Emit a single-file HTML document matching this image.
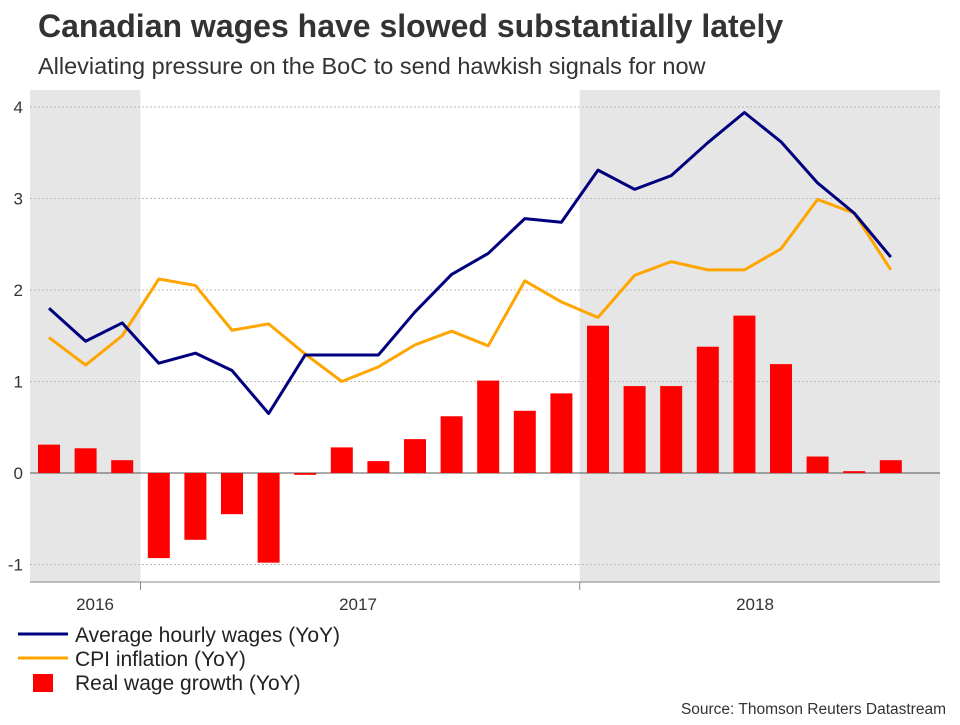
<!DOCTYPE html>
<html><head><meta charset="utf-8"><style>
body{margin:0;background:#fff;width:960px;height:720px;overflow:hidden;font-family:"Liberation Sans",Arial,sans-serif}
</style></head><body>
<svg width="960" height="720" xmlns="http://www.w3.org/2000/svg">
<text x="38" y="37" font-size="32" font-weight="bold" fill="#333">Canadian wages have slowed substantially lately</text>
<text x="38" y="74" font-size="23.5" fill="#333">Alleviating pressure on the BoC to send hawkish signals for now</text>
<g id="plot"></g>
<g>
<line x1="18" y1="634" x2="68" y2="634" stroke="#00007f" stroke-width="3"/>
<text x="75" y="642" font-size="21" fill="#222">Average hourly wages (YoY)</text>
<line x1="18" y1="658" x2="68" y2="658" stroke="#ffa500" stroke-width="3"/>
<text x="75" y="666" font-size="21" fill="#222">CPI inflation (YoY)</text>
<rect x="33" y="674" width="20" height="18" fill="#f00"/>
<text x="75" y="690" font-size="21" fill="#222">Real wage growth (YoY)</text>
</g>
<text x="946" y="714" font-size="15.5" fill="#333" text-anchor="end">Source: Thomson Reuters Datastream</text>
</svg>
<script>
const months=["Oct16","Nov16","Dec16","Jan17","Feb17","Mar17","Apr17","May17","Jun17","Jul17","Aug17","Sep17","Oct17","Nov17","Dec17","Jan18","Feb18","Mar18","Apr18","May18","Jun18","Jul18","Aug18","Sep18"];
const realWage=[0.31,0.27,0.14,-0.93,-0.73,-0.45,-0.98,-0.02,0.28,0.13,0.37,0.62,1.01,0.68,0.87,1.61,0.95,0.95,1.38,1.72,1.19,0.18,0.02,0.14];
const wages=[1.8,1.44,1.64,1.2,1.31,1.12,0.65,1.29,1.29,1.29,1.76,2.17,2.4,2.78,2.74,3.31,3.1,3.25,3.61,3.94,3.62,3.17,2.84,2.36];
const cpi=[1.48,1.18,1.5,2.12,2.05,1.56,1.63,1.3,1.0,1.16,1.4,1.55,1.39,2.1,1.87,1.7,2.16,2.31,2.22,2.22,2.45,2.99,2.84,2.22];
const yTicks=[-1,0,1,2,3,4];
const yearLabels=["2016","2017","2018"];
const NS="http://www.w3.org/2000/svg";
const g=document.getElementById('plot');
const L=30,R=940,T=90,B=582;
const x=i=>49+i*36.6;
const y=v=>473-v*91.5;
function mk(t,a,p){const e=document.createElementNS(NS,t);for(const k in a)e.setAttribute(k,a[k]);(p||g).appendChild(e);return e;}
let s1=mk('rect',{x:L,y:T,width:(x(2)+x(3))/2-L,height:B-T,fill:'#e6e6e6'});


let s2=mk('rect',{x:(x(14)+x(15))/2,y:T,width:R-(x(14)+x(15))/2,height:B-T,fill:'#e6e6e6'});


yTicks.forEach(v=>{
 let l=mk('line',{x1:L,x2:R,y1:y(v),y2:y(v),stroke:v===0?'#555':'#bbb','stroke-dasharray':v===0?'':'2,2','stroke-width':1});
 
 
 let t=mk('text',{x:23,y:y(v)+6,'font-size':17,fill:'#333','text-anchor':'end'});
 t.textContent=v;
 
 
});
realWage.forEach((v,i)=>{
 let r=mk('rect',{x:x(i)-11,width:22,y:Math.min(y(v),y(0)),height:Math.abs(y(v)-y(0)),fill:'#f00'});
 
 
});
function line(arr,col,name){
 let p=mk('polyline',{points:arr.map((v,i)=>x(i)+','+y(v)).join(' '),fill:'none',stroke:col,'stroke-width':3,'stroke-linejoin':'round'});
 
 
}
line(cpi,'#ffa500','cpi-line');
line(wages,'#00007f','wages-line');
let ax=mk('line',{x1:L,x2:R,y1:B,y2:B,stroke:'#888'});


[(x(2)+x(3))/2,(x(14)+x(15))/2].forEach(xx=>{
 let t=mk('line',{x1:xx,x2:xx,y1:B,y2:B+8,stroke:'#888'});
 
 
});
const yearX=[95,358,755];
yearLabels.forEach((lab,i)=>{
 let t=mk('text',{x:yearX[i],y:610,'font-size':17,fill:'#333','text-anchor':'middle'});
 t.textContent=lab;
 
 
});
</script>
</body></html>
